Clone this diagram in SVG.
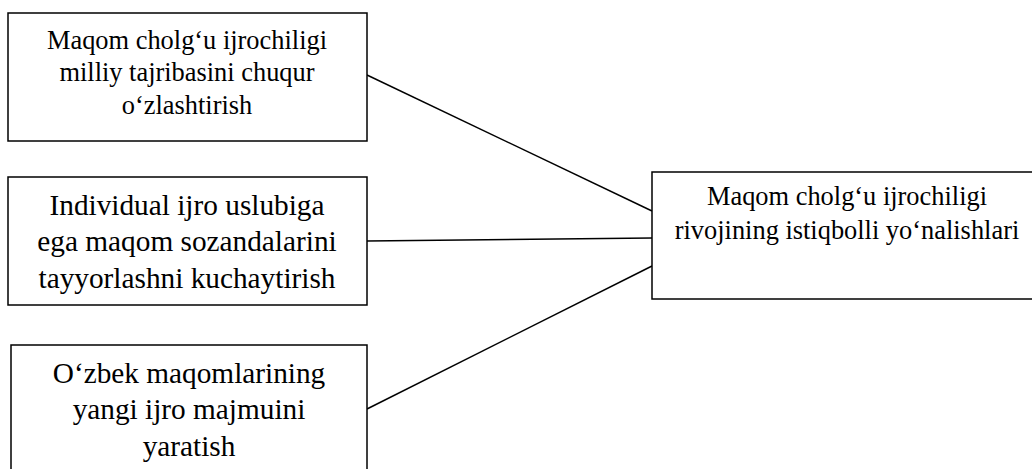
<svg xmlns="http://www.w3.org/2000/svg" width="1032" height="469" viewBox="0 0 1032 469">
<style>
.box{fill:#fff;stroke:#000;stroke-width:1.5}
text{font-family:'Liberation Serif','Times New Roman',Tinos,'DejaVu Serif',serif;text-anchor:middle;fill:#000}
.s{font-size:26.4px}
.l{font-size:29.3px}
.c{stroke:#000;stroke-width:1.5;fill:none}
</style>
<rect width="1032" height="469" fill="#fff"/>
<g id="connectors">
<line class="c" x1="367" y1="75" x2="652" y2="211"/>
<line class="c" x1="367" y1="241" x2="652" y2="238"/>
<line class="c" x1="367" y1="409" x2="652" y2="266"/>
</g>
<g id="node1">
<rect class="box" x="8" y="13" width="359" height="128"/>
<text class="s" x="187" y="48.5">Maqom cholg‘u ijrochiligi</text>
<text class="s" x="187" y="81">milliy tajribasini chuqur</text>
<text class="s" x="187" y="113.5">o‘zlashtirish</text>
</g>
<g id="node2">
<rect class="box" x="8" y="177" width="359" height="128"/>
<text class="l" x="187" y="215">Individual ijro uslubiga</text>
<text class="l" x="187" y="251">ega maqom sozandalarini</text>
<text class="l" x="187" y="288">tayyorlashni kuchaytirish</text>
</g>
<g id="node3">
<rect class="box" x="11" y="345" width="356" height="135"/>
<text class="l" x="189" y="383">O‘zbek maqomlarining</text>
<text class="l" x="189" y="419">yangi ijro majmuini</text>
<text class="l" x="189" y="456">yaratish</text>
</g>
<g id="node4">
<rect class="box" x="652" y="172" width="395" height="127"/>
<text class="s" x="847" y="205">Maqom cholg‘u ijrochiligi</text>
<text class="s" x="847" y="239">rivojining istiqbolli yo‘nalishlari</text>
</g>
</svg>
